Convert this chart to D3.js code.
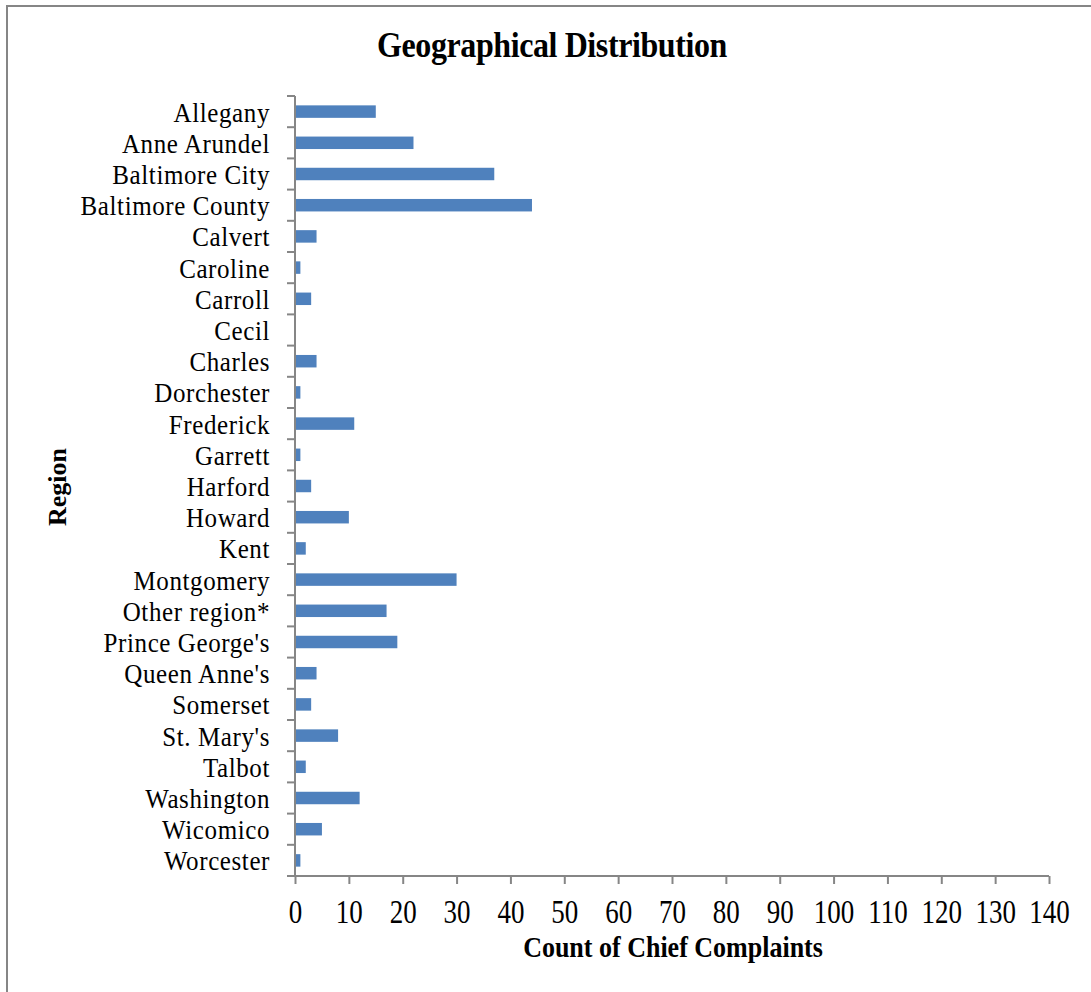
<!DOCTYPE html>
<html><head><meta charset="utf-8">
<script src="https://cdn.jsdelivr.net/npm/d3@7"></script>
<style>html,body{margin:0;padding:0;background:#fff;overflow:hidden}</style>
</head><body>
<svg id="c" width="1091" height="992"></svg>
<script>
const categories = ["Allegany","Anne Arundel","Baltimore City","Baltimore County","Calvert","Caroline","Carroll","Cecil","Charles","Dorchester","Frederick","Garrett","Harford","Howard","Kent","Montgomery","Other region*","Prince George's","Queen Anne's","Somerset","St. Mary's","Talbot","Washington","Wicomico","Worcester"];
const values = [15,22,37,44,4,1,3,0,4,1,11,1,3,10,2,30,17,19,4,3,8,2,12,5,1];
const xTicks = [0,10,20,30,40,50,60,70,80,90,100,110,120,130,140];

(function(){
const svg = d3.select("#c");
const font = "'Liberation Serif','Times New Roman',serif";
const axisColor = "#868686";

svg.append("rect").attr("x",7).attr("y",6).attr("width",1200).attr("height",1100)
  .attr("fill","none").attr("stroke",axisColor).attr("stroke-width",2);

const pL = 295, pR = 1049, pT = 96, pB = 876;
const x = d3.scaleLinear().domain([0,140]).range([pL,pR]);
const y = d3.scaleBand().domain(categories).range([pT,pB]).paddingInner(0.6).paddingOuter(0.3);

svg.append("g").selectAll("rect").data(categories).join("rect")
  .attr("x", x(0)+1).attr("y", d => y(d))
  .attr("width", (d,i) => Math.max(0, x(values[i]) - x(0) - 1))
  .attr("height", y.bandwidth())
  .attr("fill","#4f81bd");

// Y axis
const yb = d3.scaleLinear().domain([0,categories.length]).range([pT,pB]);
const gy = svg.append("g");
gy.append("line").attr("x1",pL).attr("x2",pL).attr("y1",pT).attr("y2",pB)
  .attr("stroke",axisColor).attr("stroke-width",2);
gy.selectAll("line.t").data(d3.range(categories.length+1)).join("line").attr("class","t")
  .attr("x1",pL-8).attr("x2",pL).attr("y1",d=>yb(d)).attr("y2",d=>yb(d))
  .attr("stroke",axisColor).attr("stroke-width",2);
gy.selectAll("text").data(categories).join("text")
  .attr("transform", d => `translate(270,${y(d)+y.bandwidth()/2+10}) scale(1,1.05)`)
  .attr("text-anchor","end").attr("letter-spacing","0.6")
  .attr("font-family",font).attr("font-size",25).attr("fill","#000").text(d=>d);

// X axis
const gx = svg.append("g").attr("transform",`translate(0,${pB})`)
  .call(d3.axisBottom(x).tickValues(xTicks).tickSize(8).tickPadding(14).tickFormat(d3.format("d")));
gx.select(".domain").attr("stroke",axisColor).attr("stroke-width",2).attr("d",`M${pL-1},0H${pR}`);
gx.selectAll(".tick line").attr("stroke",axisColor).attr("stroke-width",2);
gx.selectAll(".tick text").attr("font-family",font).attr("font-size",27).attr("fill","#000")
  .attr("y",null).attr("dy",null).attr("transform","translate(0,47) scale(1,1.22)");

svg.append("text").attr("transform","translate(552,57) scale(1,1.1)").attr("text-anchor","middle")
  .attr("font-family",font).attr("font-weight","bold").attr("font-size",32).attr("letter-spacing","-0.4")
  .text("Geographical Distribution");
svg.append("text").attr("transform","translate(673,957) scale(1,1.1)").attr("text-anchor","middle")
  .attr("font-family",font).attr("font-weight","bold").attr("font-size",26)
  .text("Count of Chief Complaints");
svg.append("text").attr("transform","translate(66,487) rotate(-90)").attr("text-anchor","middle")
  .attr("font-family",font).attr("font-weight","bold").attr("font-size",26)
  .text("Region");
})();
</script>
</body></html>
